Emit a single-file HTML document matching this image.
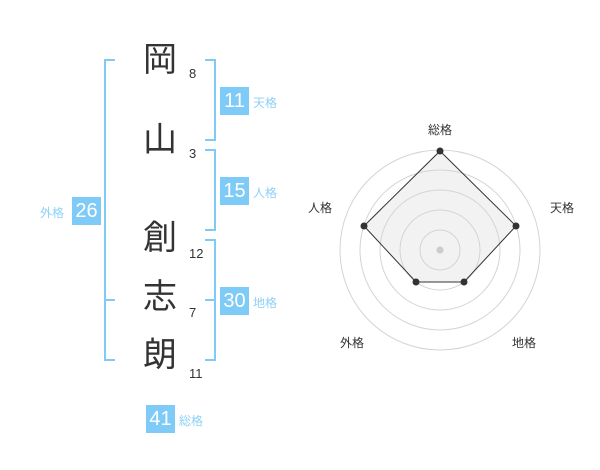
<!DOCTYPE html>
<html><head><meta charset="utf-8"><style>
body{margin:0;width:600px;height:470px;background:#fff;overflow:hidden;font-family:"Liberation Sans","Noto Sans CJK JP",sans-serif;}
.a{position:absolute}
.k{position:absolute;font-size:34px;color:#333;width:40px;text-align:center;line-height:40px;left:140px}
.n{position:absolute;font-size:13px;color:#333;left:189px}
.b{position:absolute;background:#7fcbf7;color:#fff;font-size:20px;width:29px;height:28px;line-height:28px;text-align:center}
.l{position:absolute;font-size:12px;color:#8fd0f7}
</style></head><body>
<svg class="a" style="left:0;top:0" width="600" height="470">
<g stroke="#7fcbf7" stroke-width="2" fill="none">
<path d="M115 60H105V360H115M105 300H115"/>
<path d="M205 60H215V140H205"/>
<path d="M205 150H215V230H205"/>
<path d="M205 240H215V360H205M215 300H205"/>
</g>
<polygon points="440,151 516,226 464,282 416,282 364,226" fill="#f2f2f2" stroke="none"/>
<g stroke="#d4d4d4" fill="none">
<circle cx="440" cy="250" r="100"/><circle cx="440" cy="250" r="80"/>
<circle cx="440" cy="250" r="60"/><circle cx="440" cy="250" r="40"/><circle cx="440" cy="250" r="20"/>
</g>
<polygon points="440,151 516,226 464,282 416,282 364,226" fill="none" stroke="#333" stroke-width="1"/>
<g fill="#333"><circle cx="440" cy="151" r="3.5"/><circle cx="516" cy="226" r="3.5"/><circle cx="464" cy="282" r="3.5"/><circle cx="416" cy="282" r="3.5"/><circle cx="364" cy="226" r="3.5"/></g>
<circle cx="440" cy="250" r="3.5" fill="#ccc"/>
<g font-size="12" fill="#333" text-anchor="middle" font-family="Liberation Sans,Noto Sans CJK JP,sans-serif">
<text x="440" y="134">総格</text><text x="562" y="212">天格</text><text x="320" y="212">人格</text>
<text x="352" y="347">外格</text><text x="524" y="347">地格</text></g>
</svg>
<div class="k" style="top:40px">岡</div><div class="n" style="top:66px">8</div>
<div class="k" style="top:120px">山</div><div class="n" style="top:146px">3</div>
<div class="k" style="top:218px">創</div><div class="n" style="top:246px">12</div>
<div class="k" style="top:277px">志</div><div class="n" style="top:305px">7</div>
<div class="k" style="top:335px">朗</div><div class="n" style="top:366px">11</div>
<div class="b" style="left:220px;top:87px">11</div><div class="l" style="left:253px;top:94px">天格</div>
<div class="b" style="left:220px;top:177px">15</div><div class="l" style="left:253px;top:184px">人格</div>
<div class="b" style="left:220px;top:287px">30</div><div class="l" style="left:253px;top:294px">地格</div>
<div class="b" style="left:72px;top:197px">26</div><div class="l" style="left:40px;top:204px">外格</div>
<div class="b" style="left:146px;top:405px">41</div><div class="l" style="left:179px;top:412px">総格</div>
</body></html>
